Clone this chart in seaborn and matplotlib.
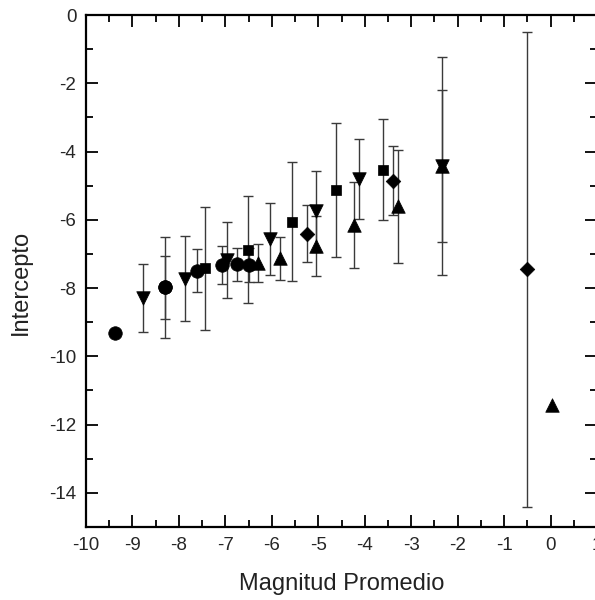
import matplotlib
matplotlib.use("Agg")
import matplotlib.pyplot as plt
import seaborn as sns
import pandas as pd
import numpy as np
from matplotlib.ticker import MultipleLocator

# ---- data ----
circle_x = [-9.38, -8.30, -8.30, -7.62, -7.08, -6.74, -6.50]
circle_y = [-9.32, -7.98, -7.98, -7.49, -7.32, -7.30, -7.32]
circle_err = [0.0, 1.47, 0.92, 0.62, 0.55, 0.48, 0.50]

square_x = [-7.44, -6.52, -5.56, -4.61, -3.61]
square_y = [-7.42, -6.88, -6.05, -5.12, -4.53]
square_err = [1.80, 1.57, 1.73, 1.96, 1.48]

down_x = [-8.77, -7.87, -6.97, -6.04, -5.05, -4.12, -2.34]
down_y = [-8.30, -7.72, -7.18, -6.57, -5.75, -4.80, -4.43]
down_err = [1.00, 1.25, 1.12, 1.05, 1.18, 1.18, 3.20]

up_x = [-6.30, -5.83, -5.05, -4.24, -3.28, -2.34, 0.03]
up_y = [-7.27, -7.13, -6.78, -6.15, -5.61, -4.43, -11.44]
up_err = [0.55, 0.64, 0.88, 1.26, 1.65, 2.23, 0.0]

diam_x = [-5.25, -3.40, -0.50]
diam_y = [-6.41, -4.85, -7.45]
diam_err = [0.83, 1.02, 6.96]

x_label = "Magnitud Promedio"
y_label = "Intercepto"
x_ticks = [-10, -9, -8, -7, -6, -5, -4, -3, -2, -1, 0, 1]
y_ticks = [0, -2, -4, -6, -8, -10, -12, -14]

frames = []
for name, xs, ys, es in [("circle", circle_x, circle_y, circle_err),
                         ("square", square_x, square_y, square_err),
                         ("down", down_x, down_y, down_err),
                         ("up", up_x, up_y, up_err),
                         ("diamond", diam_x, diam_y, diam_err)]:
    frames.append(pd.DataFrame({"x": xs, "y": ys, "err": es, "kind": name}))
df = pd.concat(frames, ignore_index=True)

sns.set_theme(style="white")
plt.rcParams["font.family"] = ["Liberation Sans", "DejaVu Sans"]

fig = plt.figure(figsize=(5.95, 6.0), dpi=100)
ax = fig.add_axes([86 / 595, 1 - 527 / 600, (597 - 86) / 595, (527 - 15) / 600])

# error bars
eb = df[df["err"] > 0]
ax.errorbar(eb["x"], eb["y"], yerr=eb["err"], fmt="none", ecolor="#3a3a3a",
            elinewidth=1.0, capsize=3.6, capthick=1.0, zorder=2)

markers = {"circle": "o", "square": "s", "down": "v", "up": "^", "diamond": "D"}
sizes = {"circle": 95, "square": 60, "down": 95, "up": 95, "diamond": 55}
for kind, sub in df.groupby("kind"):
    sns.scatterplot(data=sub, x="x", y="y", marker=markers[kind], s=sizes[kind],
                    color="black", edgecolor="black", linewidth=0.5, ax=ax,
                    legend=False, zorder=3)

ax.set_xlim(-10, 1)
ax.set_ylim(-15, 0)
ax.set_xticks(x_ticks)
ax.set_yticks(y_ticks)
ax.set_xticklabels([str(t) for t in x_ticks])
ax.set_yticklabels([str(t) for t in y_ticks])
ax.xaxis.set_minor_locator(MultipleLocator(0.5))
ax.yaxis.set_minor_locator(MultipleLocator(1))
ax.tick_params(which="both", direction="in", top=True, right=True,
               bottom=True, left=True, color="black", width=1.3, labelsize=13.5)
ax.tick_params(which="major", length=8.5, pad=7)
ax.tick_params(which="minor", length=5)
for s in ax.spines.values():
    s.set_color("black")
    s.set_linewidth(1.6)

ax.set_xlabel(x_label, fontsize=17, labelpad=14, color="#222222")
ax.set_ylabel(y_label, fontsize=17, labelpad=12, color="#222222")
ax.yaxis.set_label_coords(-0.1, 0.478, transform=ax.transAxes) if False else None
ax.yaxis.label.set_y(0.478)

fig.savefig("out.png", dpi=100, facecolor="white")
